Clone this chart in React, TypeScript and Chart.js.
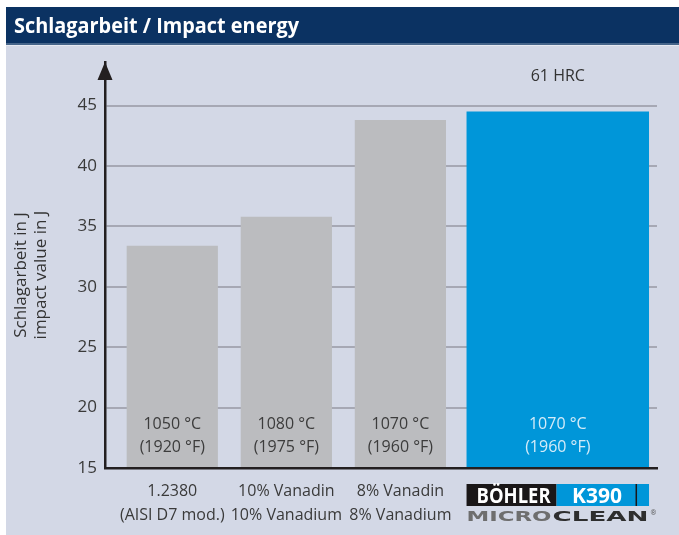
import React, { useEffect, useRef } from "react";
import { Chart, registerables } from "chart.js";

Chart.register(...registerables);

// ---- data ----
const title = "Schlagarbeit / Impact energy";
const yTitleLines = ["Schlagarbeit in J", "impact value in J"];
const categories: string[][] = [
  ["1.2380", "(AISI D7 mod.)"],
  ["10% Vanadin", "10% Vanadium"],
  ["8% Vanadin", "8% Vanadium"],
  ["", ""],
];
const positions = [0, 1, 2, 3.38];
const impactValues = [33.4, 35.8, 43.8, 44.5];
const tempC = ["1050 °C", "1080 °C", "1070 °C", "1070 °C"];
const tempF = ["(1920 °F)", "(1975 °F)", "(1960 °F)", "(1960 °F)"];
const yTicks = [15, 20, 25, 30, 35, 40, 45];
const highlightIndex = 3;
const hardnessLabel = "61 HRC";
const logoTop = ["BÖHLER", "K390"];
const logoBottom = ["MICRO", "CLEAN"];

const W = 679;
const H = 535;
const FONT = "'Open Sans', 'Noto Sans', sans-serif";

export default function App() {
  const ref = useRef<HTMLCanvasElement>(null);

  useEffect(() => {
    const canvas = ref.current!;
    const grayIdx = impactValues.map((_, i) => i).filter((i) => i !== highlightIndex);

    const bgPlugin = {
      id: "bgPanel",
      beforeDraw(chart: any) {
        const ctx = chart.ctx;
        ctx.save();
        ctx.fillStyle = "#ffffff";
        ctx.fillRect(0, 0, W, H);
        ctx.fillStyle = "#0b3262";
        ctx.fillRect(6, 7, W - 6, 36);
        ctx.fillStyle = "#46658a";
        ctx.fillRect(6, 43, W - 6, 2);
        ctx.fillStyle = "#e6e9f1";
        ctx.fillRect(6, 45, W - 6, 1);
        ctx.fillStyle = "#d3d8e6";
        ctx.fillRect(6, 46, W - 6, H - 46);
        ctx.fillStyle = "#ffffff";
        ctx.font = `bold 21px ${FONT}`;
        ctx.textAlign = "left";
        ctx.textBaseline = "alphabetic";
        ctx.fillText(title, 14, 33, 285);
        ctx.restore();
      },
    };

    const overlayPlugin = {
      id: "overlay",
      afterDatasetsDraw(chart: any) {
        const ctx = chart.ctx;
        const area = chart.chartArea;
        ctx.save();
        // bar labels
        const bars: { x: number; w: number; i: number }[] = [];
        chart.data.datasets.forEach((ds: any, di: number) => {
          const meta = chart.getDatasetMeta(di);
          meta.data.forEach((el: any, j: number) => {
            bars.push({ x: el.x, w: el.width, i: ds.srcIndex[j] });
          });
        });
        ctx.textAlign = "center";
        ctx.textBaseline = "middle";
        ctx.font = `16px ${FONT}`;
        bars.forEach((b) => {
          ctx.fillStyle = b.i === highlightIndex ? "#d4ebf8" : "#3c3c3c";
          ctx.fillText(tempC[b.i], b.x, area.bottom - 44);
          ctx.fillText(tempF[b.i], b.x, area.bottom - 21);
        });
        const hb = bars.find((b) => b.i === highlightIndex)!;
        ctx.fillStyle = "#333333";
        ctx.fillText(hardnessLabel, hb.x, area.top + 14);

        // arrow
        const ax = area.left;
        ctx.fillStyle = "#231f20";
        ctx.beginPath();
        ctx.moveTo(ax, area.top);
        ctx.lineTo(ax - 7.5, area.top + 18);
        ctx.lineTo(ax + 7.5, area.top + 18);
        ctx.closePath();
        ctx.fill();

        // y title
        ctx.save();
        ctx.fillStyle = "#333333";
        ctx.font = `17px ${FONT}`;
        ctx.textAlign = "center";
        ctx.textBaseline = "middle";
        ctx.translate(0, 275);
        ctx.rotate(-Math.PI / 2);
        ctx.fillText(yTitleLines[0], 0, 21, 133);
        ctx.fillText(yTitleLines[1], 0, 41, 130);
        ctx.restore();

        // logo under highlighted bar
        const left = hb.x - hb.w / 2;
        const top = area.bottom + 16;
        ctx.fillStyle = "#1a1718";
        ctx.fillRect(left, top, 90, 22);
        ctx.fillStyle = "#0096d9";
        ctx.fillRect(left + 90, top, hb.w - 90, 22);
        ctx.fillStyle = "#1a1718";
        ctx.fillRect(left + 169, top, 1.5, 22);
        ctx.fillStyle = "#ffffff";
        ctx.font = `bold 21px ${FONT}`;
        ctx.textAlign = "center";
        ctx.textBaseline = "alphabetic";
        ctx.fillText(logoTop[0], left + 47, top + 18.5, 74);
        ctx.fillText(logoTop[1], left + 130.5, top + 18.5, 50);

        const stretch = (text: string, x: number, y: number, w: number) => {
          ctx.textAlign = "left";
          const m = ctx.measureText(text).width;
          ctx.save();
          ctx.translate(x, y);
          ctx.scale(w / m, 1);
          ctx.fillText(text, 0, 0);
          ctx.restore();
        };
        ctx.font = `bold 14px 'DejaVu Sans', sans-serif`;
        ctx.fillStyle = "#6e6e6e";
        stretch(logoBottom[0], left, top + 37, 85);
        ctx.fillStyle = "#2e2e2e";
        stretch(logoBottom[1], left + 86, top + 37, 96);
        ctx.font = `7px ${FONT}`;
        ctx.fillStyle = "#555555";
        ctx.textAlign = "left";
        ctx.fillText("®", left + 184, top + 31);
        ctx.restore();
      },
    };

    const chart = new Chart(canvas, {
      type: "bar",
      data: {
        datasets: [
          {
            data: grayIdx.map((i) => ({ x: positions[i], y: impactValues[i] })),
            srcIndex: grayIdx,
            backgroundColor: "#bbbcbf",
            borderWidth: 0,
            grouped: false,
            categoryPercentage: 1,
            barPercentage: 0.8,
          } as any,
          {
            data: [{ x: positions[highlightIndex], y: impactValues[highlightIndex] }],
            srcIndex: [highlightIndex],
            backgroundColor: "#0096d9",
            borderWidth: 0,
            grouped: false,
            categoryPercentage: 1,
            barPercentage: 1.6,
          } as any,
        ],
      },
      options: {
        responsive: false,
        animation: false,
        devicePixelRatio: 1,
        layout: { padding: { top: 62, right: 22, left: 0, bottom: 0 } },
        plugins: {
          legend: { display: false },
          tooltip: { enabled: false },
          title: { display: false },
        },
        scales: {
          x: {
            type: "linear",
            min: -0.59,
            max: 4.25,
            offset: false,
            grid: { display: false, drawTicks: false, offset: false },
            border: { display: true, color: "#231f20", width: 2.5, z: 1 },
            afterBuildTicks: (s: any) => {
              s.ticks = positions.map((v) => ({ value: v }));
            },
            afterFit: (s: any) => {
              s.height = 67;
            },
            ticks: {
              autoSkip: false,
              maxRotation: 0,
              padding: 11,
              color: "#3a3a3a",
              font: { family: FONT, size: 16, lineHeight: 1.5 },
              callback: (_v: any, i: number) => categories[i],
            },
          },
          y: {
            type: "linear",
            min: 15,
            max: 48.6,
            grid: { color: "#a6a8b4", lineWidth: 2, drawTicks: false },
            border: { color: "#231f20", width: 2.5 },
            afterBuildTicks: (s: any) => {
              s.ticks = yTicks.map((v) => ({ value: v }));
            },
            afterFit: (s: any) => {
              s.width = 105;
            },
            ticks: {
              padding: 8,
              color: "#3a3a3a",
              font: { family: FONT, size: 17 },
              callback: (v: any) => String(v),
            },
          },
        },
      } as any,
      plugins: [bgPlugin, overlayPlugin],
    });
    return () => chart.destroy();
  }, []);

  return (
    <div style={{ position: "absolute", left: 0, top: 0, width: W, height: H }}>
      <canvas ref={ref} width={W} height={H} style={{ display: "block", width: W, height: H }} />
    </div>
  );
}
